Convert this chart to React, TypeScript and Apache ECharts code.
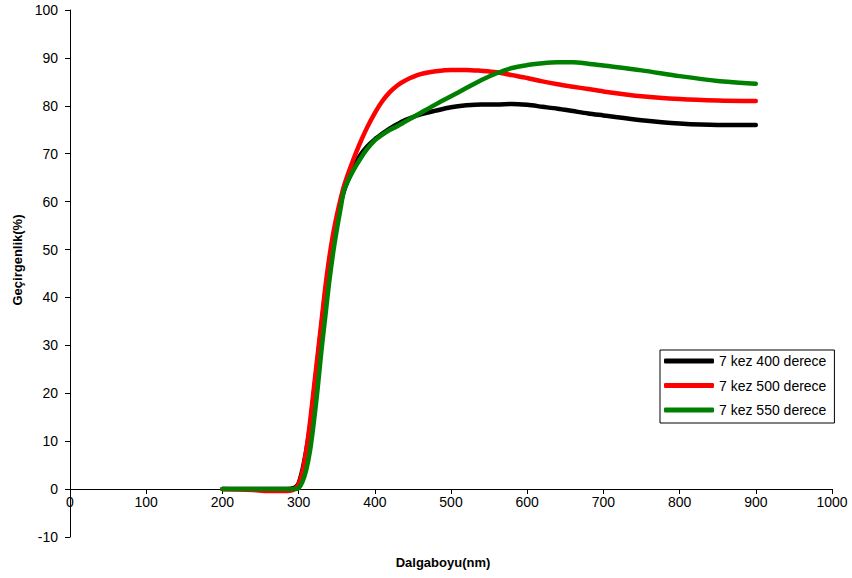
import React, { useEffect, useRef } from "react";
import * as echarts from "echarts";

const wavelengths = [200, 240, 260, 280, 290, 295, 300, 305, 310, 315, 320, 325, 330, 335, 340, 345, 350, 355, 360, 370, 380, 390, 400, 410, 420, 430, 440, 460, 480, 500, 520, 540, 560, 580, 600, 620, 640, 660, 680, 700, 750, 800, 850, 900];

const series400 = [0, 0, 0, 0, 0.1, 0.3, 1.2, 4, 8, 13, 20, 27, 34, 41, 47, 52, 56, 59.5, 62.5, 66.5, 69.5, 71.5, 73, 74.2, 75.3, 76.2, 77, 78.2, 79, 79.7, 80.1, 80.3, 80.3, 80.4, 80.2, 79.8, 79.4, 78.9, 78.4, 78, 77, 76.3, 76, 76];
const series500 = [0, -0.2, -0.4, -0.4, -0.3, 0, 1, 3.5, 8, 14, 21, 28, 35, 42, 48, 53, 57, 60.5, 63.5, 68, 72, 75.5, 78.5, 81, 82.9, 84.3, 85.3, 86.6, 87.2, 87.5, 87.5, 87.3, 87, 86.4, 85.8, 85.1, 84.5, 84, 83.5, 83, 82, 81.4, 81.1, 81];
const series550 = [0, 0, 0, 0, 0, 0, 0.2, 1.5, 4, 8, 14, 21, 29, 36, 43, 49, 54, 58.5, 62.5, 66, 68.7, 71, 72.8, 74, 75, 75.8, 76.7, 78.5, 80.3, 82, 83.7, 85.4, 86.8, 87.9, 88.5, 88.9, 89.1, 89.1, 88.8, 88.4, 87.4, 86.2, 85.2, 84.6];

const seriesNames = ["7 kez 400 derece", "7 kez 500 derece", "7 kez 550 derece"];
const seriesColors = ["#000000", "#ff0000", "#008000"];
const seriesValues = [series400, series500, series550];

const xTitle = "Dalgaboyu(nm)";
const yTitle = "Geçirgenlik(%)";

const FONT = "'Liberation Sans', Arial, sans-serif";

export default function App() {
  const ref = useRef<HTMLDivElement>(null);
  useEffect(() => {
    if (!ref.current) return;
    const chart = echarts.init(ref.current, undefined, { renderer: "svg" });
    chart.setOption({
      animation: false,
      backgroundColor: "#ffffff",
      textStyle: { fontFamily: FONT },
      grid: { left: 70, right: 20, top: 10, bottom: 41, containLabel: false },
      legend: {
        orient: "vertical",
        left: 660,
        top: 350,
        padding: [4, 8, 6, 4],
        itemGap: 10.5,
        itemWidth: 50,
        itemHeight: 5,
        icon: "roundRect",
        borderColor: "#000",
        borderWidth: 1,
        textStyle: { fontFamily: FONT, fontSize: 14, color: "#000" },
        data: seriesNames,
      },
      xAxis: {
        type: "value",
        min: 0,
        max: 1000,
        interval: 100,
        position: "bottom",
        offset: -48,
        axisLine: { onZero: false, lineStyle: { color: "#000", width: 1 } },
        axisTick: { show: true, length: 5, lineStyle: { color: "#000" } },
        axisLabel: {
          fontFamily: FONT,
          fontSize: 14,
          color: "#000",
          margin: 6,
          formatter: (v: number) => String(v),
        },
        splitLine: { show: false },
      },
      yAxis: {
        type: "value",
        min: -10,
        max: 100,
        interval: 10,
        axisLine: { show: true, onZero: false, lineStyle: { color: "#000", width: 1 } },
        axisTick: { show: true, length: 5, lineStyle: { color: "#000" } },
        axisLabel: { fontFamily: FONT, fontSize: 14, color: "#000", margin: 12 },
        splitLine: { show: false },
      },
      graphic: [
        {
          type: "text",
          x: 443,
          y: 562,
          style: {
            text: xTitle,
            fontFamily: FONT,
            fontSize: 13,
            fontWeight: "bold",
            fill: "#000",
            align: "center",
            verticalAlign: "middle",
          },
        },
        {
          type: "text",
          x: 17,
          y: 260,
          rotation: Math.PI / 2,
          style: {
            text: yTitle,
            fontFamily: FONT,
            fontSize: 13,
            fontWeight: "bold",
            fill: "#000",
            align: "center",
            verticalAlign: "middle",
          },
        },
      ],
      series: seriesNames.map((name, i) => ({
        name,
        type: "line",
        smooth: 0.3,
        symbol: "none",
        data: wavelengths.map((w, j) => [w, seriesValues[i][j]]),
        lineStyle: { color: seriesColors[i], width: 4.5, cap: "round", join: "round" },
        itemStyle: { color: seriesColors[i] },
        z: 2 + i,
      })),
    });
    return () => chart.dispose();
  }, []);
  return (
    <div
      ref={ref}
      style={{ position: "fixed", left: 0, top: 0, width: 852, height: 578, background: "#fff" }}
    />
  );
}
